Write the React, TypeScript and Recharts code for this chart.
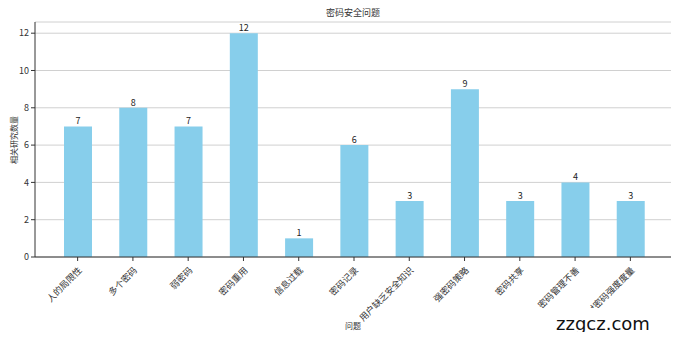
import React from "react";
import {
  Bar,
  BarChart,
  CartesianGrid,
  LabelList,
  XAxis,
  YAxis
} from "recharts";

const categories = [
  "人的局限性",
  "多个密码",
  "弱密码",
  "密码重用",
  "信息过载",
  "密码记录",
  "用户缺乏安全知识",
  "强密码策略",
  "密码共享",
  "密码管理不善",
  "缺乏对密码强度度量"
];
const counts = [7, 8, 7, 12, 1, 6, 3, 9, 3, 4, 3];
const yTicks = [0, 2, 4, 6, 8, 10, 12];

const data = categories.map((name, i) => ({ name, count: counts[i] }));

const FONT = "'Noto Sans CJK SC', 'DejaVu Sans', sans-serif";

function RotatedTick(props: any): JSX.Element {
  const { x, y, payload } = props;
  return (
    <g transform={`translate(${x + 2},${y + 5})`}>
      <text
        x={0}
        y={0}
        dy={4}
        textAnchor="end"
        transform="rotate(-45)"
        fill="#333"
        fontSize={9}
        fontFamily={FONT}
      >
        {payload.value}
      </text>
    </g>
  );
}

export default function App(): JSX.Element {
  return (
    <div style={{ position: "relative", width: 679, height: 340, margin: -8, background: "#fff", fontFamily: FONT }}>
      <div style={{ position: "absolute", top: 6, left: 0, width: 706, textAlign: "center", fontSize: 9, color: "#333" }}>
        密码安全问题
      </div>
      <div
        style={{
          position: "absolute",
          left: 6,
          top: 140,
          transform: "translate(-50%, -50%) rotate(-90deg)",
          transformOrigin: "center",
          fontSize: 8,
          color: "#333",
          whiteSpace: "nowrap",
          marginLeft: 7
        }}
      >
        相关研究数量
      </div>
      <BarChart
        width={679}
        height={340}
        data={data}
        margin={{ top: 22, right: 6, left: 5, bottom: 0 }}
      >
        <CartesianGrid vertical={false} stroke="#d0d0d0" />
        <XAxis
          dataKey="name"
          interval={0}
          height={83}
          padding={{ left: 15, right: 15 }}
          tick={<RotatedTick />}
          tickLine={{ stroke: "#333" }}
          tickSize={4}
          axisLine={{ stroke: "#333" }}
        />
        <XAxis xAxisId="top" orientation="top" dataKey="name" height={0} tick={false} tickLine={false} axisLine={{ stroke: "#333" }} />
        <YAxis
          domain={[0, 12.6]}
          ticks={yTicks}
          width={30}
          tickSize={4}
          tick={{ fill: "#333", fontSize: 9, fontFamily: FONT }}
          tickLine={{ stroke: "#333" }}
          axisLine={{ stroke: "#333" }}
        />
        <YAxis yAxisId="right" orientation="right" width={0} tick={false} tickLine={false} axisLine={{ stroke: "#333" }} />
        <Bar dataKey="count" fill="#87CEEB" barSize={28} isAnimationActive={false}>
          <LabelList dataKey="count" position="top" offset={2} fill="#222" fontSize={9} fontFamily={FONT} />
        </Bar>
      </BarChart>
      <div style={{ position: "absolute", left: 345, top: 320, fontSize: 8, color: "#333" }}>问题</div>
      <div
        style={{
          position: "absolute",
          left: 552,
          top: 308,
          width: 127,
          height: 32,
          background: "#fff",
          fontFamily: "'DejaVu Sans', sans-serif",
          fontSize: 18,
          color: "#111",
          lineHeight: "32px",
          paddingLeft: 4,
          boxSizing: "border-box",
          whiteSpace: "nowrap"
        }}
      >
        zzgcz.com
      </div>
    </div>
  );
}
